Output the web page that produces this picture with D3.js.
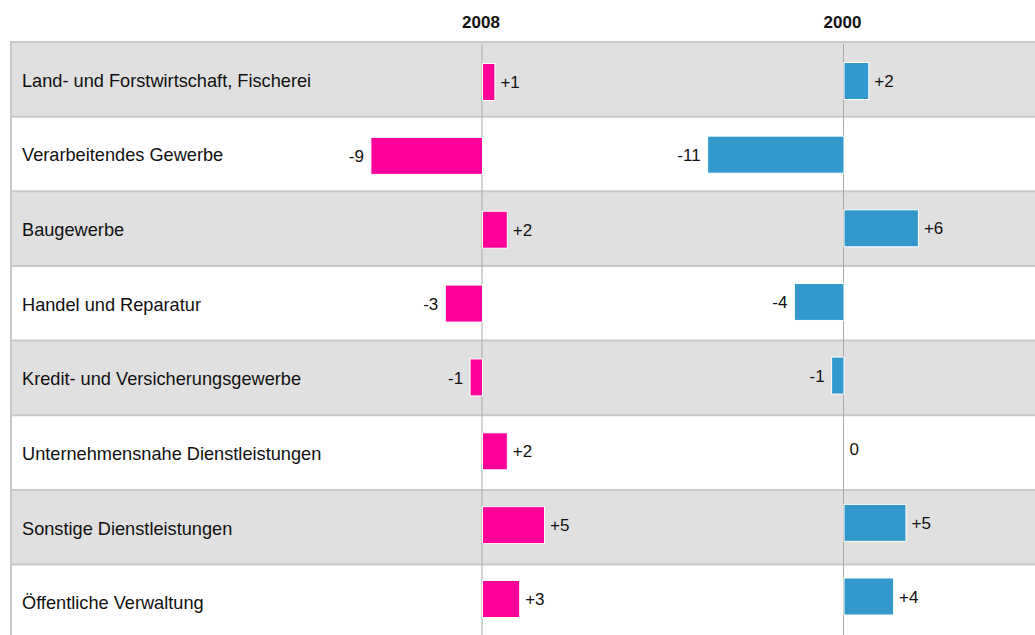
<!DOCTYPE html>
<html>
<head>
<meta charset="utf-8">
<script src="https://cdn.jsdelivr.net/npm/d3@7"></script>
<style>
  body { margin: 0; background: #fff; }
  svg { display: block; font-family: "Liberation Sans", Arial, sans-serif; }
  .cat { font-size: 18.2px; fill: #111; }
  .val { font-size: 17px; fill: #111; }
  .head { font-size: 17px; font-weight: bold; fill: #111; }
</style>
</head>
<body>
<div id="chart"></div>
<script>
// ===== data =====
const categories = [
  'Land- und Forstwirtschaft, Fischerei',
  'Verarbeitendes Gewerbe',
  'Baugewerbe',
  'Handel und Reparatur',
  'Kredit- und Versicherungsgewerbe',
  'Unternehmensnahe Dienstleistungen',
  'Sonstige Dienstleistungen',
  'Öffentliche Verwaltung'
];
const years = ['2008', '2000'];
const values2008 = [1, -9, 2, -3, -1, 2, 5, 3];
const values2000 = [2, -11, 6, -4, -1, 0, 5, 4];

// ===== structure =====
const width = 1035, height = 635;
const marginLeft = 10, marginTop = 42, rowH = 74.65;
const colors = { '2008': '#ff0099', '2000': '#3399cc' };

const svg = d3.select('#chart').append('svg')
  .attr('width', width)
  .attr('height', height);

// table rows
const y = d3.scaleBand()
  .domain(categories)
  .range([marginTop, marginTop + rowH * categories.length]);

// bar centres drift slightly from row centres in the original
const barY = {
  '2008': d3.scalePoint().domain(categories).range([82, 599]),
  '2000': d3.scalePoint().domain(categories).range([81, 596.5])
};
const barH = 37;

// two axes sharing the same unit width
const unit = 12.4;
const x = {
  '2008': d3.scaleLinear().domain([0, 1]).range([482, 482 + unit]),
  '2000': d3.scaleLinear().domain([0, 1]).range([843.5, 843.5 + unit])
};
const series = { '2008': values2008, '2000': values2000 };

// row backgrounds
svg.selectAll('rect.row')
  .data(categories)
  .enter()
  .append('rect')
  .attr('class', 'row')
  .attr('x', marginLeft)
  .attr('y', d => y(d))
  .attr('width', width - marginLeft)
  .attr('height', y.bandwidth())
  .attr('fill', (d, i) => i % 2 === 0 ? '#e0e0e0' : '#ffffff');

// row separators
svg.selectAll('line.sep')
  .data(categories)
  .enter()
  .append('line')
  .attr('x1', marginLeft)
  .attr('x2', width)
  .attr('y1', d => y(d))
  .attr('y2', d => y(d))
  .attr('stroke', '#c8c8c8')
  .attr('stroke-width', 2);

svg.append('line')
  .attr('x1', marginLeft + 1).attr('x2', marginLeft + 1)
  .attr('y1', marginTop - 1).attr('y2', height)
  .attr('stroke', '#c8c8c8')
  .attr('stroke-width', 2);

// category labels
svg.selectAll('text.cat')
  .data(categories)
  .enter()
  .append('text')
  .attr('class', 'cat')
  .attr('x', 22)
  .attr('y', d => y(d) + y.bandwidth() / 2 + 7.5)
  .text(d => d);

const fmt = v => v > 0 ? '+' + v : String(v);

years.forEach(yr => {
  const sx = x[yr];
  const by = barY[yr];
  const rows = series[yr].map((v, i) => ({ cat: categories[i], v }));

  // zero line
  svg.append('line')
    .attr('x1', sx(0)).attr('x2', sx(0))
    .attr('y1', marginTop + 2).attr('y2', height)
    .attr('stroke', '#aaaaaa')
    .attr('stroke-width', 1);

  svg.append('text')
    .attr('class', 'head')
    .attr('x', sx(0) - 1)
    .attr('y', 28)
    .attr('text-anchor', 'middle')
    .text(yr);

  const g = svg.append('g');

  g.selectAll('rect')
    .data(rows.filter(d => d.v !== 0))
    .enter()
    .append('rect')
    .attr('x', d => Math.min(sx(0), sx(d.v)) + 0.5)
    .attr('y', d => by(d.cat) - barH / 2)
    .attr('width', d => Math.abs(sx(d.v) - sx(0)))
    .attr('height', barH)
    .attr('fill', colors[yr])
    .attr('stroke', '#ffffff')
    .attr('stroke-width', 1);

  g.selectAll('text')
    .data(rows)
    .enter()
    .append('text')
    .attr('class', 'val')
    .attr('x', d => d.v < 0 ? sx(d.v) - 6.5 : sx(d.v) + 6)
    .attr('y', d => by(d.cat))
    .attr('dy', '0.36em')
    .attr('text-anchor', d => d.v < 0 ? 'end' : 'start')
    .text(d => fmt(d.v));
});
</script>
</body>
</html>
